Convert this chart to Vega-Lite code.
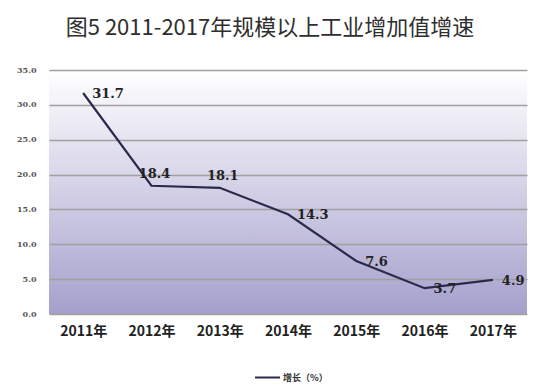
{
  "$schema": "https://vega.github.io/schema/vega-lite/v6.json",
  "autosize": "none",
  "width": 478,
  "height": 244,
  "padding": {"left": 49, "top": 70, "right": 20, "bottom": 72},
  "background": "#ffffff",
  "title": {
    "text": "图5 2011-2017年规模以上工业增加值增速",
    "font": "Noto Sans CJK SC",
    "fontSize": 22,
    "fontWeight": "normal",
    "color": "#2e2e2e",
    "anchor": "middle",
    "dx": -18,
    "offset": 26
  },
  "config": {
    "view": {
      "stroke": null,
      "fill": {
        "gradient": "linear",
        "x1": 0, "y1": 0, "x2": 0, "y2": 1,
        "stops": [
          {"offset": 0, "color": "#ffffff"},
          {"offset": 1, "color": "#a5a0cc"}
        ]
      }
    }
  },
  "data": {
    "values": [
      {"year": "2011年", "value": 31.7, "series": "增长（%）"},
      {"year": "2012年", "value": 18.4, "series": "增长（%）"},
      {"year": "2013年", "value": 18.1, "series": "增长（%）"},
      {"year": "2014年", "value": 14.3, "series": "增长（%）"},
      {"year": "2015年", "value": 7.6, "series": "增长（%）"},
      {"year": "2016年", "value": 3.7, "series": "增长（%）"},
      {"year": "2017年", "value": 4.9, "series": "增长（%）"}
    ]
  },
  "encoding": {
    "x": {
      "field": "year",
      "type": "ordinal",
      "scale": {"paddingInner": 0, "paddingOuter": 0},
      "axis": {
        "title": null,
        "labelAngle": 0,
        "labelFont": "Noto Sans CJK SC",
        "labelFontSize": 14,
        "labelFontWeight": "bold",
        "labelColor": "#222222",
        "labelPadding": 10,
        "ticks": false,
        "domain": false,
        "grid": false
      }
    },
    "y": {
      "field": "value",
      "type": "quantitative",
      "scale": {"domain": [0, 35], "nice": false},
      "axis": {
        "title": null,
        "values": [0, 5, 10, 15, 20, 25, 30, 35],
        "format": ".1f",
        "labelFont": "DejaVu Serif",
        "labelFontSize": 8,
        "labelFontWeight": "bold",
        "labelColor": "#555555",
        "labelPadding": 13,
        "ticks": false,
        "domain": false,
        "grid": true,
        "gridColor": "#a0a0a0",
        "gridWidth": 1.5
      }
    }
  },
  "layer": [
    {
      "mark": {"type": "line", "strokeWidth": 2.2},
      "encoding": {
        "color": {
          "field": "series",
          "type": "nominal",
          "scale": {"range": ["#2b2a4c"]},
          "legend": {
            "title": null,
            "orient": "none",
            "legendX": 205,
            "legendY": 294,
            "padding": 0,
            "symbolType": "stroke",
            "symbolSize": 625,
            "symbolStrokeWidth": 2,
            "labelFont": "Noto Sans CJK SC",
            "labelFontSize": 9,
            "labelFontWeight": "bold",
            "labelColor": "#333333",
            "labelOffset": 2
          }
        }
      }
    },
    {
      "transform": [{"filter": "datum.year != '2012年' && datum.year != '2013年'"}],
      "mark": {
        "type": "text",
        "align": "left",
        "baseline": "middle",
        "dx": 9,
        "dy": 1,
        "font": "DejaVu Serif",
        "fontSize": 13,
        "fontWeight": "bold",
        "color": "#222222"
      },
      "encoding": {"text": {"field": "value", "type": "quantitative", "format": ".1f"}}
    },
    {
      "transform": [{"filter": "datum.year == '2012年' || datum.year == '2013年'"}],
      "mark": {
        "type": "text",
        "align": "center",
        "baseline": "middle",
        "dx": 3,
        "dy": -12,
        "font": "DejaVu Serif",
        "fontSize": 13,
        "fontWeight": "bold",
        "color": "#222222"
      },
      "encoding": {"text": {"field": "value", "type": "quantitative", "format": ".1f"}}
    }
  ]
}
